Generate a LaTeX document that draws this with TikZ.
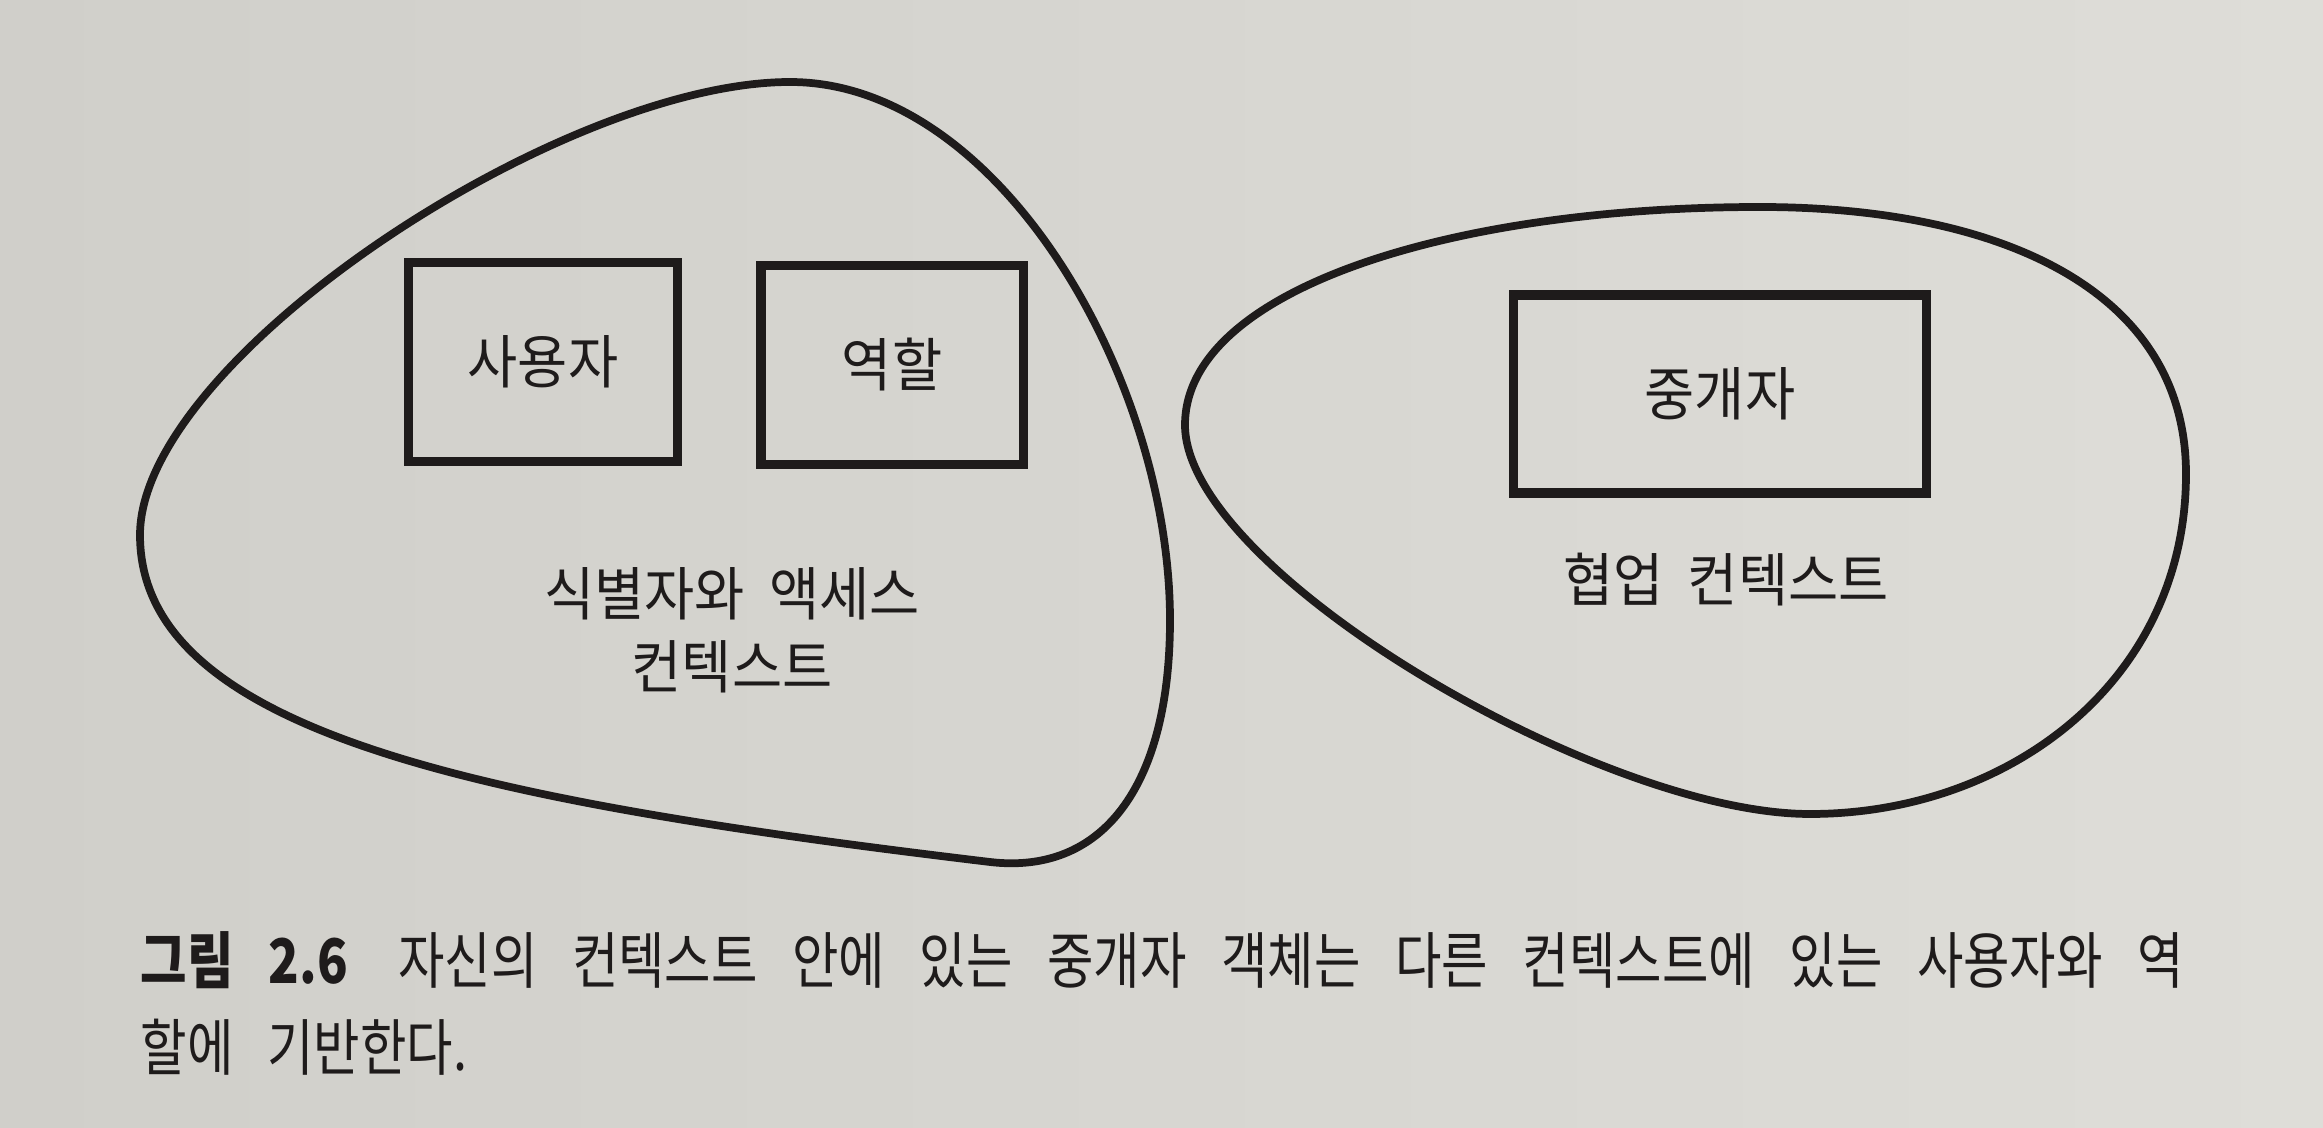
\documentclass[tikz,border=0pt]{standalone}
\usepackage{fontspec}
\newfontfamily\krlab[FakeStretch=0.94]{Noto Sans CJK KR}
\newfontfamily\krcap[FakeStretch=0.82]{Noto Sans CJK KR}
\definecolor{paperL}{RGB}{208,207,202}
\definecolor{paperR}{RGB}{222,221,216}
\definecolor{ink}{RGB}{30,27,27}
\begin{document}
\begin{tikzpicture}[x=0.01cm,y=-0.01cm,
  blob/.style={draw=ink,line width=2.2pt},
  box/.style={draw=ink,line width=2.6pt,inner sep=0pt,font=\krlab\fontsize{16.5}{20}\selectfont,text=ink},
  lbl/.style={font=\krlab\fontsize{16.5}{20.8}\selectfont,text=ink,align=center,inner sep=0pt},
  captxt/.style={font=\krcap\fontsize{17.5}{20}\selectfont,text=ink,anchor=west,inner sep=0pt}]
\shade[left color=paperL,right color=paperR] (0,0) rectangle (2323,1128);
\useasboundingbox (0,0) rectangle (2323,1128);

% left context
\draw[blob] (790,82)
  .. controls (1000,82) and (1170,380) .. (1170,620)
  .. controls (1170,790) and (1100,875) .. (990,862)
  .. controls (490,802) and (140,735) .. (140,535)
  .. controls (140,360) and (560,82) .. cycle;

% right context
\draw[blob] (1760,207)
  .. controls (2000,207) and (2186,290) .. (2186,474)
  .. controls (2186,680) and (2010,814) .. (1810,814)
  .. controls (1600,814) and (1185,570) .. (1185,425)
  .. controls (1185,290) and (1450,207) .. cycle;

\node[box,minimum width=2.68cm,minimum height=1.99cm] (user) at (543,362) {사용자};
\node[box,minimum width=2.62cm,minimum height=1.99cm] (role) at (892,365) {역할};
\node[box,minimum width=4.13cm,minimum height=1.98cm] (broker) at (1720,394) {중개자};

\node[lbl] (ctxA) at (732,630) {식별자와\hspace{0.42em}액세스\\컨텍스트};
\node[lbl] (ctxB) at (1726,580) {협업\hspace{0.42em}컨텍스트};

\node[captxt] (cap1) at (140,960) {\makebox[20.42cm][s]{\textbf{그림 2.6}\hspace{0.25em} 자신의 컨텍스트 안에 있는 중개자 객체는 다른 컨텍스트에 있는 사용자와 역}};
\node[captxt] (cap2) at (140,1047) {\spaceskip=0.55em 할에 기반한다.};
\end{tikzpicture}
\end{document}
